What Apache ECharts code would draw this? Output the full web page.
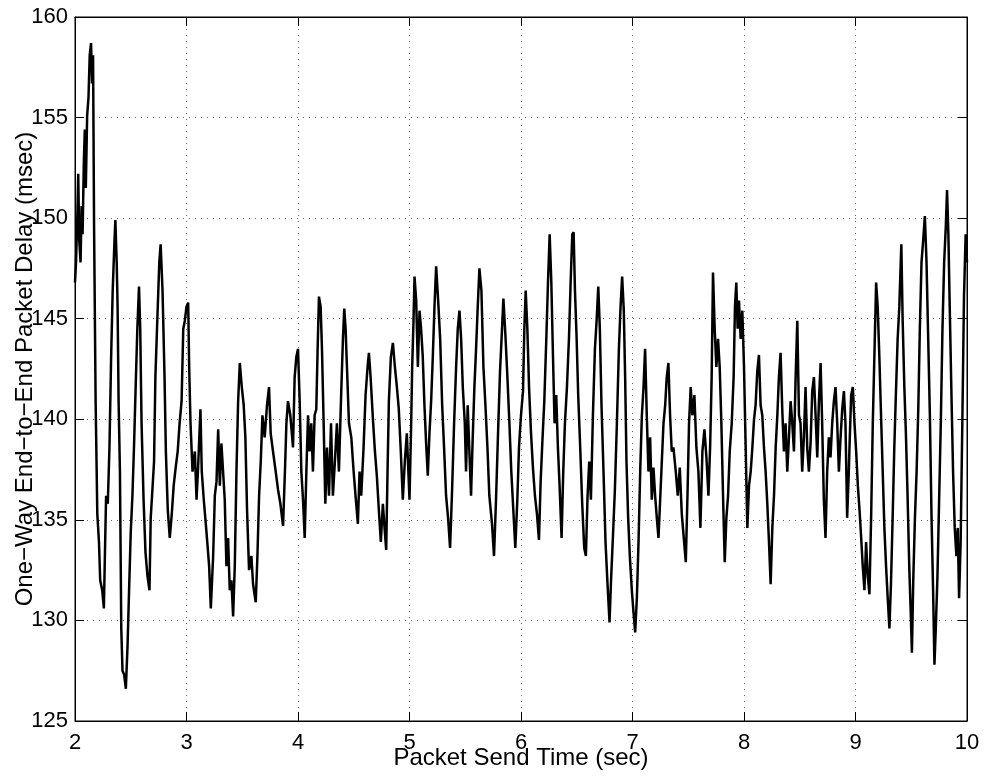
<!DOCTYPE html>
<html>
<head>
<meta charset="utf-8">
<script src="https://cdn.jsdelivr.net/npm/echarts@6/dist/echarts.min.js"></script>
<style>html,body{margin:0;padding:0;background:#fff}#c{width:987px;height:777px}</style>
</head>
<body>
<div id="c"></div>
<script>
// Packet send time (sec)
var sendTime = [
2.000,2.009,2.021,2.029,2.038,2.050,2.059,2.068,2.079,2.088,2.097,2.109,2.121,2.132,2.144,2.153,2.162,2.171,2.185,2.200,
2.215,2.226,2.244,2.259,2.268,2.279,2.294,2.309,2.324,2.338,2.353,2.362,2.374,2.382,2.391,2.403,2.415,2.426,2.441,2.456,
2.471,2.485,2.500,2.515,2.529,2.544,2.559,2.574,2.585,2.597,2.615,2.632,2.650,2.668,2.679,2.691,2.709,2.721,2.738,2.756,
2.768,2.785,2.803,2.815,2.832,2.850,2.868,2.885,2.903,2.921,2.938,2.956,2.971,2.985,3.000,
3.015,3.024,3.036,3.054,3.075,3.090,3.104,3.125,3.137,3.155,3.179,3.203,3.218,3.239,3.254,3.269,3.284,3.299,3.313,3.328,
3.343,3.358,3.373,3.388,3.403,3.418,3.433,3.448,3.463,3.478,3.496,3.513,3.528,3.543,3.561,3.582,3.597,3.621,3.636,3.651,
3.666,3.681,3.701,3.722,3.740,3.755,3.776,3.800,3.821,3.842,3.866,3.884,3.896,3.910,3.931,3.955,3.970,3.985,
4.000,4.015,4.030,4.045,4.060,4.075,4.090,4.104,4.119,4.134,4.149,4.164,4.176,4.188,4.203,4.215,4.230,4.245,4.260,4.278,
4.296,4.313,4.331,4.349,4.367,4.388,4.403,4.415,4.427,4.439,4.457,4.478,4.499,4.516,4.537,4.552,4.567,4.588,4.606,4.624,
4.636,4.651,4.672,4.690,4.707,4.725,4.743,4.761,4.779,4.791,4.803,4.815,4.833,4.851,4.869,4.887,4.904,4.922,4.940,4.958,4.976,
5.000,5.015,5.024,5.036,5.045,5.060,5.075,5.090,5.104,5.119,5.134,5.149,5.164,5.179,5.194,5.209,5.224,5.239,5.257,5.275,
5.293,5.310,5.328,5.346,5.364,5.382,5.400,5.418,5.433,5.448,5.463,5.478,5.496,5.507,5.522,5.537,5.552,5.567,5.582,5.597,
5.612,5.627,5.645,5.663,5.681,5.699,5.716,5.740,5.758,5.776,5.794,5.812,5.830,5.842,5.860,5.878,5.896,5.913,5.931,5.949,5.967,
5.982,6.000,6.018,6.030,6.042,6.057,6.072,6.090,6.107,6.125,6.143,6.161,6.176,6.191,6.209,6.227,6.242,6.257,6.272,6.287,
6.301,6.316,6.331,6.346,6.364,6.379,6.394,6.412,6.430,6.445,6.460,6.472,6.484,6.499,6.513,6.531,6.549,6.567,6.582,6.597,
6.612,6.627,6.645,6.663,6.678,6.693,6.707,6.722,6.740,6.758,6.776,6.794,6.809,6.824,6.842,6.860,6.878,6.893,6.907,
6.922,6.934,6.946,6.961,6.976,6.994,7.009,7.024,7.039,7.054,7.069,7.084,7.099,7.113,7.128,7.143,7.158,7.173,7.188,7.203,
7.218,7.233,7.248,7.263,7.278,7.293,7.307,7.322,7.337,7.352,7.367,7.388,7.406,7.424,7.442,7.460,7.478,7.493,7.507,7.522,
7.537,7.555,7.573,7.591,7.609,7.627,7.645,7.663,7.681,7.696,7.710,7.722,7.737,7.752,7.767,7.782,7.797,7.812,7.827,7.842,
7.857,7.872,7.890,7.907,7.919,7.931,7.943,
7.955,7.970,7.985,8.000,8.015,8.030,8.045,8.060,8.075,8.090,8.104,8.119,8.134,8.149,8.164,8.179,8.194,8.209,8.224,8.239,
8.254,8.269,8.284,8.299,8.313,8.328,8.343,8.358,8.373,8.388,8.403,8.418,8.433,8.448,8.463,8.478,8.493,8.507,8.522,8.537,
8.552,8.567,8.582,8.597,8.612,8.627,8.642,8.657,8.672,8.687,8.701,8.716,8.731,8.746,8.761,8.776,8.791,8.806,8.821,8.836,
8.851,8.866,8.881,8.896,8.910,8.925,8.940,
8.946,8.961,8.976,8.991,9.006,9.021,9.036,9.051,9.065,9.080,9.095,9.110,9.125,9.140,9.155,9.170,9.185,9.199,9.214,9.229,
9.244,9.259,9.274,9.289,9.304,9.318,9.333,9.348,9.363,9.378,9.393,9.411,9.423,9.438,9.452,9.467,9.482,9.497,9.506,9.518,
9.533,9.548,9.563,9.577,9.592,9.607,9.622,9.637,9.652,9.667,9.682,9.696,9.708,9.720,9.735,9.750,9.765,9.780,9.795,9.810,
9.821,9.833,9.845,9.860,9.875,9.890,9.905,9.917,9.929,9.943,9.958,9.973,9.988,10.000
];
// One-way end-to-end packet delay (msec)
var delay = [
146.8,147.8,150.1,152.2,148.9,147.8,150.6,149.2,152.7,154.4,151.5,155.1,156.0,158.1,158.7,156.7,158.1,149.6,140.9,135.3,
133.9,132.0,131.5,130.6,133.2,136.2,135.8,138.6,143.1,146.4,148.7,149.9,147.8,145.6,140.9,137.4,129.6,127.5,127.3,126.6,
128.7,131.5,134.4,136.2,138.6,141.6,144.5,146.6,144.5,139.8,136.0,133.4,132.2,131.5,135.1,136.2,137.9,142.1,144.9,147.8,
148.7,146.4,142.1,138.4,135.5,134.1,135.3,136.7,137.6,138.4,139.8,140.9,144.5,144.9,145.6,
145.8,142.6,139.8,137.4,138.4,136.0,137.6,140.5,137.4,136.0,134.4,132.7,130.6,133.2,136.2,136.9,139.5,136.7,138.8,137.4,
136.0,132.7,134.1,131.5,132.0,130.2,132.7,137.4,140.9,142.8,141.6,140.7,139.1,135.5,132.5,133.2,131.8,130.9,133.2,136.2,
137.9,140.2,139.1,140.7,141.6,139.3,138.4,137.4,136.5,135.8,134.7,137.6,139.8,140.9,140.2,138.6,142.1,143.1,
143.5,140.9,137.4,136.0,134.1,137.4,140.2,138.4,139.8,137.4,140.2,140.5,143.5,146.1,145.6,143.5,139.8,135.8,138.6,136.2,
139.8,136.2,137.9,139.8,137.4,141.4,144.0,145.5,144.5,142.6,139.8,139.1,137.4,136.2,134.8,137.4,136.2,138.6,141.2,142.6,
143.3,142.1,140.0,138.4,137.2,135.5,133.9,135.8,134.4,133.5,137.4,140.9,143.1,143.8,142.6,141.6,140.5,138.4,136.0,137.9,139.3,
136.0,139.8,142.6,144.9,147.1,145.9,142.6,145.4,144.5,143.1,140.7,138.8,137.2,139.3,140.9,143.1,145.6,147.6,145.9,144.0,
140.7,138.6,136.2,135.1,133.6,136.5,139.8,142.6,144.5,145.4,144.0,141.6,139.8,137.4,140.7,138.4,136.2,139.1,141.6,143.5,
145.6,147.5,146.4,142.6,140.7,138.6,136.2,134.8,133.2,136.0,139.3,142.4,144.5,146.0,144.2,142.1,139.8,137.4,135.5,133.6,136.0,
138.6,140.2,141.4,144.5,146.4,144.5,141.6,139.3,137.6,136.2,135.3,134.0,136.9,138.8,140.9,144.0,146.8,149.2,146.8,143.1,
139.8,141.2,138.6,136.7,134.1,137.4,139.8,141.6,144.0,146.8,149.2,149.3,146.4,144.0,141.2,138.6,135.8,133.6,133.2,136.2,
137.9,136.0,140.2,143.5,144.9,146.6,144.5,140.7,137.4,133.9,131.8,129.9,132.2,134.1,136.5,139.8,143.5,145.6,147.1,
145.4,142.1,137.9,135.1,133.2,131.5,130.4,129.4,131.1,133.9,137.4,140.2,141.6,143.5,140.2,137.4,139.1,136.0,137.6,136.2,
135.1,134.1,136.0,137.9,139.8,140.7,142.1,142.8,140.2,138.4,138.6,137.4,136.2,137.6,135.3,134.1,132.9,136.2,139.8,141.6,
140.2,141.2,138.6,137.4,134.6,138.4,139.5,138.1,136.2,138.6,142.1,147.3,144.5,142.6,144.0,142.6,139.8,136.2,132.9,135.1,
136.2,138.4,139.8,142.1,145.6,146.8,144.5,
145.9,144.0,145.4,142.6,138.6,134.6,136.7,137.4,138.6,140.0,140.7,142.4,143.2,140.7,140.2,138.6,137.4,135.8,133.9,131.8,
134.6,136.2,138.6,140.2,142.1,143.3,140.5,138.4,139.8,137.4,139.1,140.9,139.8,138.4,142.1,144.9,140.2,139.8,137.4,139.1,
141.6,138.6,137.4,138.8,141.4,142.1,140.2,138.1,140.9,142.8,139.8,136.0,134.1,137.4,139.1,138.1,139.8,140.9,141.6,139.8,
137.4,139.1,140.5,141.4,139.8,135.1,137.4,
138.6,141.2,141.6,139.8,138.4,136.7,135.5,134.1,132.7,131.5,133.9,132.2,131.3,135.1,139.8,143.3,146.8,145.6,143.1,140.2,
137.4,134.6,132.7,131.1,129.6,131.8,135.1,138.6,141.4,144.0,145.6,148.7,144.9,141.6,139.3,136.2,132.7,130.1,128.4,132.0,
135.1,137.4,140.5,144.5,147.8,148.9,150.1,147.8,144.0,140.2,135.1,131.5,127.8,129.6,132.2,136.0,139.8,144.5,147.8,149.6,
151.4,149.2,145.6,141.4,137.4,134.6,133.2,134.6,131.1,133.9,139.8,146.1,149.2,147.8
];
var xTicks = [2, 3, 4, 5, 6, 7, 8, 9, 10];
var yTicks = [125, 130, 135, 140, 145, 150, 155, 160];

var points = sendTime.map(function (t, i) { return [t, delay[i]]; });
var font = 'Liberation Sans, Arial, Helvetica, sans-serif';
var gridDash = { show: true, lineStyle: { color: '#666', width: 1, type: [1, 5] } };

var chart = echarts.init(document.getElementById('c'), null, { renderer: 'canvas' });
chart.setOption({
  animation: false,
  backgroundColor: '#fff',
  grid: { left: 75, right: 20, top: 17, bottom: 56, containLabel: false, outerBoundsMode: 'none',
          show: true, borderColor: '#000', borderWidth: 1, backgroundColor: 'transparent' },
  xAxis: [{
    type: 'value', min: xTicks[0], max: xTicks[xTicks.length - 1], interval: 1,
    position: 'bottom',
    axisLine: { show: true, onZero: false, lineStyle: { color: '#000', width: 1 } },
    axisTick: { show: true, inside: true, length: 9, lineStyle: { color: '#000' } },
    axisLabel: { color: '#000', fontSize: 22, fontFamily: font, margin: 11 },
    splitLine: gridDash,
    name: 'Packet Send Time (sec)', nameLocation: 'middle', nameGap: 25, nameMoveOverlap: false,
    nameTextStyle: { color: '#000', fontSize: 24, fontFamily: font }
  }, {
    type: 'value', min: xTicks[0], max: xTicks[xTicks.length - 1], interval: 1,
    position: 'top',
    axisLine: { show: true, onZero: false, lineStyle: { color: '#000', width: 1 } },
    axisTick: { show: true, inside: true, length: 9, lineStyle: { color: '#000' } },
    axisLabel: { show: false }, splitLine: { show: false }
  }],
  yAxis: [{
    type: 'value', min: yTicks[0], max: yTicks[yTicks.length - 1], interval: 5,
    position: 'left',
    axisLine: { show: true, onZero: false, lineStyle: { color: '#000', width: 1 } },
    axisTick: { show: true, inside: true, length: 9, lineStyle: { color: '#000' } },
    axisLabel: { color: '#000', fontSize: 22, fontFamily: font, margin: 7 },
    splitLine: gridDash,
    name: 'One\u2212Way End\u2212to\u2212End Packet Delay (msec)', nameLocation: 'middle', nameGap: 38, nameRotate: 90,
    nameMoveOverlap: false,
    nameTextStyle: { color: '#000', fontSize: 24, fontFamily: font }
  }, {
    type: 'value', min: yTicks[0], max: yTicks[yTicks.length - 1], interval: 5,
    position: 'right',
    axisLine: { show: true, onZero: false, lineStyle: { color: '#000', width: 1 } },
    axisTick: { show: true, inside: true, length: 9, lineStyle: { color: '#000' } },
    axisLabel: { show: false }, splitLine: { show: false }
  }],
  series: [{
    type: 'line', data: points, xAxisIndex: 0, yAxisIndex: 0,
    showSymbol: false, symbol: 'none', smooth: false,
    lineStyle: { color: '#000', width: 2.5 }
  }]
});
</script>
</body>
</html>
